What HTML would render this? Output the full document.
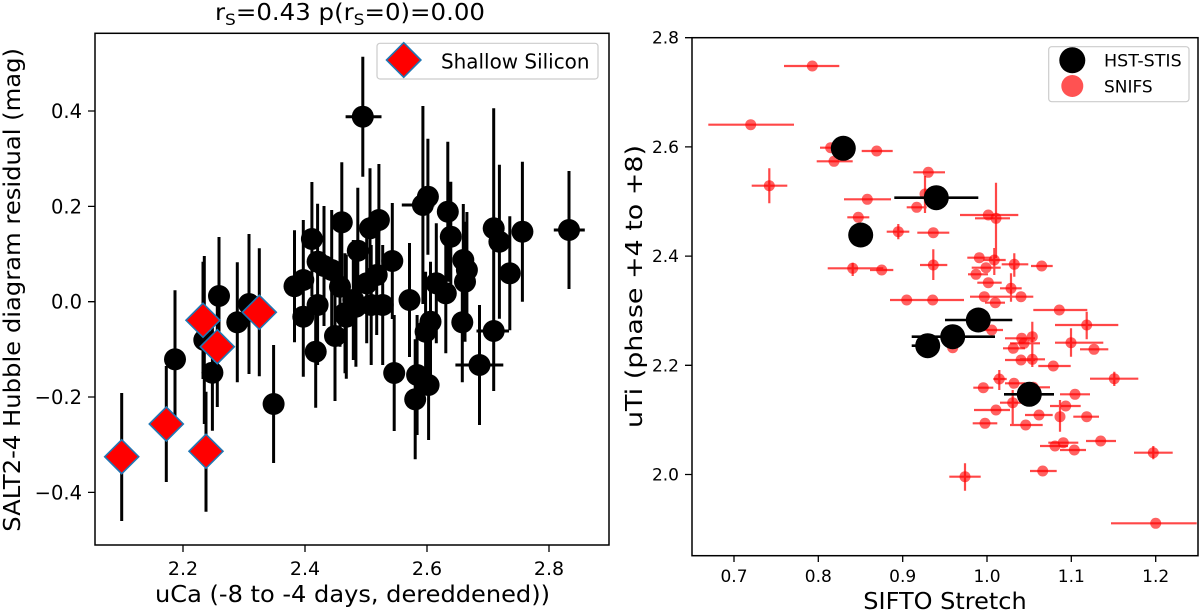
<!DOCTYPE html>
<html>
<head>
<meta charset="utf-8">
<style>
html,body{margin:0;padding:0;background:#fff;}
svg{display:block;}
text{font-family:"DejaVu Sans","Liberation Sans",sans-serif;fill:#000;}
</style>
</head>
<body>
<svg width="1200" height="613" viewBox="0 0 1200 613" xmlns="http://www.w3.org/2000/svg">
<rect width="1200" height="613" fill="#fff"/>

<!-- ================= LEFT PANEL ================= -->
<!-- title -->
<text x="215" y="20" font-size="23" textLength="270" lengthAdjust="spacingAndGlyphs">r<tspan font-size="16" dy="5">S</tspan><tspan dy="-5">=0.43 p(r</tspan><tspan font-size="16" dy="5">S</tspan><tspan dy="-5">=0)=0.00</tspan></text>

<!-- black error bars -->
<path fill="none" stroke="#000" stroke-width="3" d="
M175,290.3V428.3 M219,237V355 M237.3,262.3V382.3 M249,234V374 M204.3,256V424 M212.4,314.7V430.7
M273.6,345V463 M294.5,230.2V342.2 M303.3,220V340 M303.3,256.7V376.7 M311.9,182V296 M315.7,295.7V407.7
M317.6,203.7V319.7 M317.6,245V365 M324,206V326 M331.7,210V330 M335,271V401 M340,226.7V346.7
M341.8,162.3V282.3 M345,253.3V373.3 M346.3,254.7V378.7 M353.3,240V360 M355.9,246.7V366.7 M357.8,187.7V313.7
M362.8,56.7V176.7 M345.6,116.7H381.5 M366.7,223.3V343.3 M370,168.3V288.3 M371.2,245V365 M376.7,215V335
M378.9,164V276 M382.7,245V365 M392.3,203V319 M394.2,315V431 M409.5,243V357 M415.2,339.3V459.3
M417.1,315V435 M422.9,106V304 M401.8,205H434.4 M427.9,138.7V254.7 M425.6,271.7V391.7 M428.6,330V440
M430.5,261.7V381.7 M436.3,223.3V343.3 M445.8,233.3V353.3 M447.8,141.7V281.7 M450.8,181.7V291.7
M462.3,262.3V382.3 M463.3,204V316 M465,221.7V341.7 M466.9,212V328 M479.5,305V425 M455.4,365H503.3
M493.7,108.3V348.3 M499.4,164.7V318.7 M493.7,271V391 M476.5,331H509 M509.8,216.3V330.3 M522.4,161.7V301.7
M569,171V289 M553.8,230H584.8
M121.7,393V521 M166.3,366V482 M206,391.7V511.7 M203,261.7V379 M217.3,287V407 M259.3,248.3V376.3"/>

<!-- black markers -->
<g fill="#000">
<circle cx="175" cy="359.3" r="11"/><circle cx="219" cy="296" r="11"/><circle cx="237.3" cy="322.3" r="11"/>
<circle cx="249" cy="304" r="11"/><circle cx="204.3" cy="340" r="11"/><circle cx="212.4" cy="372.7" r="11"/>
<circle cx="273.6" cy="404" r="11"/><circle cx="294.5" cy="286.2" r="11"/><circle cx="303.3" cy="280" r="11"/>
<circle cx="303.3" cy="316.7" r="11"/><circle cx="311.9" cy="239" r="11"/><circle cx="315.7" cy="351.7" r="11"/>
<circle cx="317.6" cy="261.7" r="11"/><circle cx="317.6" cy="305" r="11"/><circle cx="324" cy="266" r="11"/>
<circle cx="331.7" cy="270" r="11"/><circle cx="335" cy="336" r="11"/><circle cx="340" cy="286.7" r="11"/>
<circle cx="341.8" cy="222.3" r="11"/><circle cx="345" cy="313.3" r="11"/><circle cx="346.3" cy="316.7" r="11"/>
<circle cx="353.3" cy="300" r="11"/><circle cx="355.9" cy="306.7" r="11"/><circle cx="357.8" cy="250.7" r="11"/>
<circle cx="362.8" cy="116.7" r="11"/><circle cx="366.7" cy="283.3" r="11"/><circle cx="370" cy="228.3" r="11"/>
<circle cx="371.2" cy="305" r="11"/><circle cx="376.7" cy="275" r="11"/><circle cx="378.9" cy="220" r="11"/>
<circle cx="382.7" cy="305" r="11"/><circle cx="392.3" cy="261" r="11"/><circle cx="394.2" cy="373" r="11"/>
<circle cx="409.5" cy="300" r="11"/><circle cx="415.2" cy="399.3" r="11"/><circle cx="417.1" cy="375" r="11"/>
<circle cx="422.9" cy="205" r="11"/><circle cx="427.9" cy="196.7" r="11"/><circle cx="425.6" cy="331.7" r="11"/>
<circle cx="428.6" cy="385" r="11"/><circle cx="430.5" cy="321.7" r="11"/><circle cx="436.3" cy="283.3" r="11"/>
<circle cx="445.8" cy="293.3" r="11"/><circle cx="447.8" cy="211.7" r="11"/><circle cx="450.8" cy="236.7" r="11"/>
<circle cx="462.3" cy="322.3" r="11"/><circle cx="463.3" cy="260" r="11"/><circle cx="465" cy="281.7" r="11"/>
<circle cx="466.9" cy="270" r="11"/><circle cx="479.5" cy="365" r="11"/><circle cx="493.7" cy="228.3" r="11"/>
<circle cx="499.4" cy="241.7" r="11"/><circle cx="493.7" cy="331" r="11"/><circle cx="509.8" cy="273.3" r="11"/>
<circle cx="522.4" cy="231.7" r="11"/><circle cx="569" cy="230" r="11"/>
</g>

<!-- diamonds -->
<g fill="#ff0000" stroke="#1f77b4" stroke-width="1.6">
<polygon points="121.7,439.7 138.7,456.7 121.7,473.7 104.7,456.7"/>
<polygon points="166.3,407 183.3,424 166.3,441 149.3,424"/>
<polygon points="206,434.3 223,451.3 206,468.3 189,451.3"/>
<polygon points="203,303.3 220,320.3 203,337.3 186,320.3"/>
<polygon points="217.3,329.7 234.3,346.7 217.3,363.7 200.3,346.7"/>
<polygon points="259.3,295.3 276.3,312.3 259.3,329.3 242.3,312.3"/>
</g>

<!-- left axes frame -->
<rect x="95" y="33.3" width="514" height="511.7" fill="none" stroke="#000" stroke-width="1.5"/>

<!-- left y ticks -->
<path stroke="#000" stroke-width="1.3" d="M88,111H95 M88,206.4H95 M88,301.7H95 M88,397H95 M88,492.4H95"/>
<g font-size="19.5" text-anchor="end">
<text x="82" y="118">0.4</text>
<text x="82" y="213.4">0.2</text>
<text x="82" y="308.7">0.0</text>
<text x="82" y="404">−0.2</text>
<text x="82" y="499.4">−0.4</text>
</g>
<!-- left x ticks -->
<path stroke="#000" stroke-width="1.3" d="M183,545V552 M305,545V552 M427,545V552 M549,545V552"/>
<g font-size="19" text-anchor="middle">
<text x="183" y="575">2.2</text>
<text x="305" y="575">2.4</text>
<text x="427" y="575">2.6</text>
<text x="549" y="575">2.8</text>
</g>
<!-- left axis labels -->
<text x="155" y="602" font-size="23" textLength="395" lengthAdjust="spacingAndGlyphs">uCa (-8 to -4 days, dereddened))</text>
<text transform="translate(20,531.7) rotate(-90)" x="0" y="0" font-size="23" textLength="483.7" lengthAdjust="spacingAndGlyphs">SALT2-4 Hubble diagram residual (mag)</text>

<!-- left legend -->
<rect x="377" y="43.3" width="221" height="35.7" rx="3" ry="3" fill="#fff" fill-opacity="0.8" stroke="#cccccc" stroke-width="1.2"/>
<polygon points="403.7,42.7 420.9,60 403.7,77.3 386.5,60" fill="#ff0000" stroke="#1f77b4" stroke-width="1.6"/>
<text x="441" y="68.3" font-size="20" textLength="148.5" lengthAdjust="spacingAndGlyphs">Shallow Silicon</text>

<!-- ================= RIGHT PANEL ================= -->
<!-- red error bars -->
<path fill="none" stroke="#ff0000" stroke-opacity="0.72" stroke-width="2.2" d="
M784,66H839.3 M708.3,124.7H794 M751.7,185.7H787.3 M769.3,168.3V203.3 M820,147.7H841 M816.7,161.3H852.7
M861.7,151H892.7 M844,199.3H891 M847.3,217.3H869.3 M886.7,231.7H909.3 M898.3,224V239.3 M913.3,172.3H945
M906.7,207.3H926.7 M925,176V213 M917.3,232.7H949.3 M920,265H947.3 M933.3,249.3V280 M827.7,268.3H883.3
M852.7,262.7V276 M870,270H893.3 M890,300H921.7 M906,300H964 M960,215H1018.3 M975,218.3H1010 M996,182.7V258
M967.3,257.7H991.7 M983.3,260H1005.7 M994.3,248V275 M971.7,267.7H1000.7 M968,274.3H988 M1001.7,264.3H1028.3
M1014.3,253.3V276.7 M1031,266H1052.7 M977.3,282.7H1001.7 M1000,288.3H1021.7 M1011,273.3V301.7 M1010,296.7H1033.3
M970,296.7H1010 M985,302.7H1005 M1033.3,310H1087.3 M1055,325H1118.3 M1086.7,311.7V339.3 M980,330H1003
M1005,338.3H1035 M1032.3,321.7V366.7 M1010,343.3H1040 M1003,348.3H1025 M1005,360H1035 M1020,359.3H1045
M1032.3,350V367 M1038.3,366H1070.7 M1055,342.7H1103.3 M1071,328.3V356.7 M1080,349.3H1108.3 M993.3,379H1006.7
M999.3,370V390 M1005,383.3H1025 M973.3,387.7H993.3 M1020,387.3H1050 M1090,378.7H1138.3 M1114.3,371.7V386
M1060,394.3H1090 M1000,402.7H1025 M1012.7,390V426 M974,410H1010 M1050,406H1080.7 M1025,415H1052.7
M1060,400V431.7 M1073.3,416.7H1099 M972.7,423.3H997.3 M1010,425H1042.7 M1086,441H1116 M1048.3,442.7H1078.3
M1040,446H1068 M1060,450H1086 M1134,452.7H1172.7 M1153.3,446V459.3 M1030,471H1056.7 M949.3,476.7H980.7
M965,463.3V490.7 M1111,523.3H1196.7"/>

<!-- red markers -->
<g fill="#ff0000" fill-opacity="0.62">
<circle cx="812.3" cy="66" r="5.5"/><circle cx="750.7" cy="124.7" r="5.5"/><circle cx="769.3" cy="185.7" r="5.5"/>
<circle cx="830.7" cy="147.7" r="5.5"/><circle cx="834" cy="161.3" r="5.5"/><circle cx="876.7" cy="151" r="5.5"/>
<circle cx="867.3" cy="199.3" r="5.5"/><circle cx="858.3" cy="217.3" r="5.5"/><circle cx="898.3" cy="231.7" r="5.5"/>
<circle cx="928.3" cy="172.3" r="5.5"/><circle cx="916.7" cy="207.3" r="5.5"/><circle cx="925" cy="194" r="5.5"/>
<circle cx="933.3" cy="232.7" r="5.5"/><circle cx="933.3" cy="265" r="5.5"/><circle cx="852.7" cy="268.3" r="5.5"/>
<circle cx="881.7" cy="270" r="5.5"/><circle cx="906.7" cy="300" r="5.5"/><circle cx="932.7" cy="300" r="5.5"/>
<circle cx="988.3" cy="215" r="5.5"/><circle cx="996" cy="218.3" r="5.5"/><circle cx="979.3" cy="257.7" r="5.5"/>
<circle cx="994.3" cy="260" r="5.5"/><circle cx="986" cy="267.7" r="5.5"/><circle cx="976" cy="274.3" r="5.5"/>
<circle cx="1014.3" cy="264.3" r="5.5"/><circle cx="1041.7" cy="266" r="5.5"/><circle cx="988.3" cy="282.7" r="5.5"/>
<circle cx="1011" cy="288.3" r="5.5"/><circle cx="1021" cy="296.7" r="5.5"/><circle cx="984.3" cy="296.7" r="5.5"/>
<circle cx="995.3" cy="302.7" r="5.5"/><circle cx="1059.3" cy="310" r="5.5"/><circle cx="1086.7" cy="325" r="5.5"/>
<circle cx="991.7" cy="330" r="5.5"/><circle cx="1021.7" cy="338.3" r="5.5"/><circle cx="1032.3" cy="336.7" r="5.5"/>
<circle cx="1024" cy="343.3" r="5.5"/><circle cx="1013.3" cy="348.3" r="5.5"/><circle cx="1021" cy="360" r="5.5"/>
<circle cx="1032.3" cy="359.3" r="5.5"/><circle cx="1053.3" cy="366" r="5.5"/><circle cx="1071" cy="342.7" r="5.5"/>
<circle cx="1094" cy="349.3" r="5.5"/><circle cx="999.3" cy="379" r="5.5"/><circle cx="1014" cy="383.3" r="5.5"/>
<circle cx="983.3" cy="387.7" r="5.5"/><circle cx="1033.3" cy="387.3" r="5.5"/><circle cx="1114.3" cy="378.7" r="5.5"/>
<circle cx="1075" cy="394.3" r="5.5"/><circle cx="1012.7" cy="402.7" r="5.5"/><circle cx="996" cy="410" r="5.5"/>
<circle cx="1065.7" cy="406" r="5.5"/><circle cx="1039" cy="415" r="5.5"/><circle cx="1060" cy="416.7" r="5.5"/>
<circle cx="1086.7" cy="416.7" r="5.5"/><circle cx="985" cy="423.3" r="5.5"/><circle cx="1025.7" cy="425" r="5.5"/>
<circle cx="1100.7" cy="441" r="5.5"/><circle cx="1063.3" cy="442.7" r="5.5"/><circle cx="1055" cy="446" r="5.5"/>
<circle cx="1074.3" cy="450" r="5.5"/><circle cx="1153.3" cy="452.7" r="5.5"/><circle cx="1042.7" cy="471" r="5.5"/>
<circle cx="965" cy="476.7" r="5.5"/><circle cx="1155.7" cy="523.3" r="5.5"/><circle cx="952.7" cy="347.7" r="5.5"/>
</g>

<!-- black HST-STIS error bars -->
<path fill="none" stroke="#000" stroke-width="2.6" d="M894.3,197.7H978.3 M945,320H1012.3 M911.7,336.7H995 M911.7,345.7H940 M1004,394.3H1054"/>
<!-- black HST markers -->
<g fill="#000">
<circle cx="843.3" cy="148.3" r="12.5"/>
<circle cx="936.3" cy="197.7" r="12.5"/>
<circle cx="860.7" cy="235" r="12.5"/>
<circle cx="978.3" cy="320" r="12.5"/>
<circle cx="952.7" cy="336.7" r="12.5"/>
<circle cx="927.7" cy="345.7" r="12.5"/>
<circle cx="1029.3" cy="394.3" r="12.5"/>
</g>

<!-- right axes frame -->
<rect x="692" y="37.7" width="506" height="518" fill="none" stroke="#000" stroke-width="1.5"/>

<!-- right y ticks -->
<path stroke="#000" stroke-width="1.3" d="M685,37.7H692 M685,146.9H692 M685,256.1H692 M685,365.3H692 M685,474.5H692"/>
<g font-size="17" text-anchor="end">
<text x="679" y="43.7">2.8</text>
<text x="679" y="152.9">2.6</text>
<text x="679" y="262.1">2.4</text>
<text x="679" y="371.3">2.2</text>
<text x="679" y="480.5">2.0</text>
</g>
<!-- right x ticks -->
<path stroke="#000" stroke-width="1.3" d="M734,555.7V562 M818.3,555.7V562 M902.7,555.7V562 M987,555.7V562 M1071.3,555.7V562 M1155.7,555.7V562"/>
<g font-size="17" text-anchor="middle">
<text x="734" y="582">0.7</text>
<text x="818.3" y="582">0.8</text>
<text x="902.7" y="582">0.9</text>
<text x="987" y="582">1.0</text>
<text x="1071.3" y="582">1.1</text>
<text x="1155.7" y="582">1.2</text>
</g>
<!-- right axis labels -->
<text x="863.3" y="609" font-size="23" textLength="163.4" lengthAdjust="spacingAndGlyphs">SIFTO Stretch</text>
<text transform="translate(642,428) rotate(-90)" x="0" y="0" font-size="23" textLength="283" lengthAdjust="spacingAndGlyphs">uTi (phase +4 to +8)</text>

<!-- right legend -->
<rect x="1048.7" y="46.7" width="140.3" height="55" rx="3" ry="3" fill="#fff" fill-opacity="0.8" stroke="#cccccc" stroke-width="1.2"/>
<circle cx="1072.3" cy="60.3" r="13" fill="#000"/>
<circle cx="1072.3" cy="86" r="11" fill="#ff0000" fill-opacity="0.68"/>
<text x="1104" y="66.7" font-size="17" textLength="77.7" lengthAdjust="spacingAndGlyphs">HST-STIS</text>
<text x="1104" y="92.3" font-size="17" textLength="48.7" lengthAdjust="spacingAndGlyphs">SNIFS</text>
</svg>
</body>
</html>
